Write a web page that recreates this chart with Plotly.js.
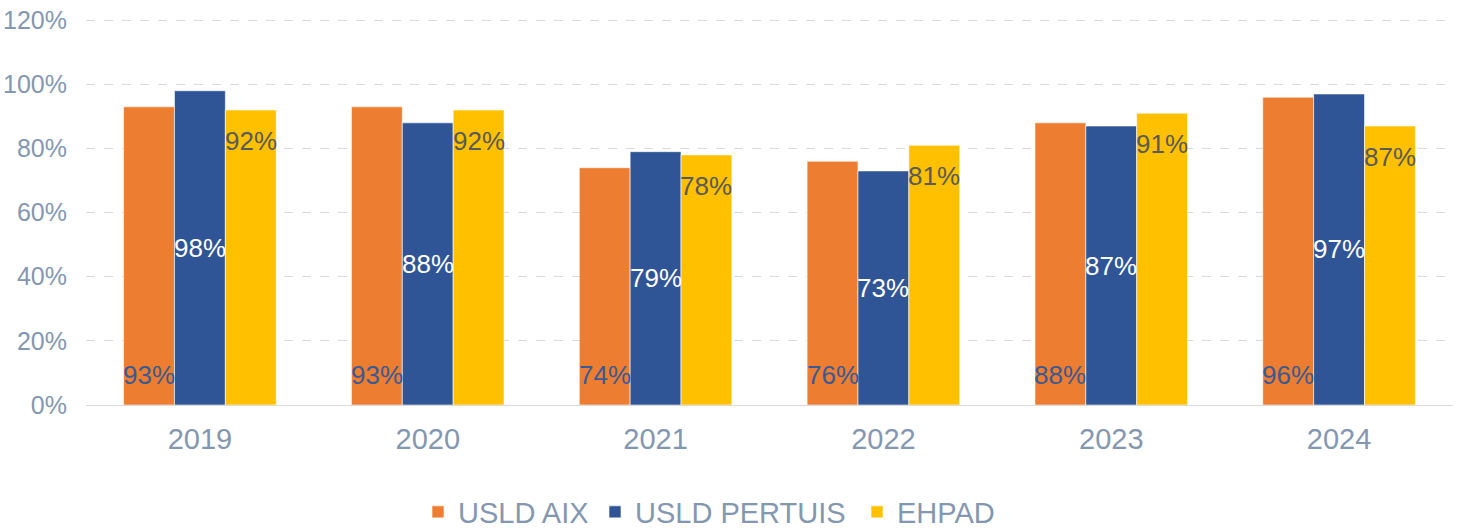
<!DOCTYPE html>
<html>
<head>
<meta charset="utf-8">
<script src="https://cdn.plot.ly/plotly-3.0.1.min.js"></script>
<style>html,body{margin:0;padding:0;background:#fff;}#chart{width:1464px;height:528px;}</style>
</head>
<body>
<div id="chart"></div>
<script>
const years = ['2019', '2020', '2021', '2022', '2023', '2024'];
const usldAix = [0.93, 0.93, 0.74, 0.76, 0.88, 0.96];
const usldPertuis = [0.98, 0.88, 0.79, 0.73, 0.87, 0.97];
const ehpad = [0.92, 0.92, 0.78, 0.81, 0.91, 0.87];
const seriesNames = ['USLD AIX', 'USLD PERTUIS', 'EHPAD'];
const yTicks = [0, 0.2, 0.4, 0.6, 0.8, 1.0, 1.2];

const colors = ['#ED7D31', '#2F5597', '#FFC000'];
const legendWidths = [132, 217, 100];
const font = '"Liberation Sans", Arial, sans-serif';
const bargap = 0.33;
const barW = (1 - bargap) / 3;

const allSeries = [usldAix, usldPertuis, ehpad];
const traces = allSeries.map((vals, i) => ({
  type: 'bar',
  name: seriesNames[i],
  x: years.map((_, k) => k),
  y: vals,
  legendwidth: legendWidths[i],
  marker: {color: colors[i], line: {color: 'rgba(255,255,255,0.6)', width: 1}},
  hoverinfo: 'skip'
}));

const pct = v => Math.round(v * 100) + '%';
const annotations = [];
years.forEach((yr, k) => {
  annotations.push({x: k - barW, y: 0, yshift: 30, text: pct(usldAix[k]), showarrow: false,
    xref: 'x', yref: 'y', yanchor: 'middle', font: {family: font, size: 26, color: '#3A5A94'}});
  annotations.push({x: k, y: usldPertuis[k] / 2, text: pct(usldPertuis[k]), showarrow: false,
    xref: 'x', yref: 'y', yanchor: 'middle', font: {family: font, size: 26, color: '#FFFFFF'}});
  annotations.push({x: k + barW, y: ehpad[k], yshift: -31, text: pct(ehpad[k]), showarrow: false,
    xref: 'x', yref: 'y', yanchor: 'middle', font: {family: font, size: 26, color: '#5A5A5A'}});
});

const layout = {
  width: 1464, height: 528,
  margin: {l: 86, r: 11, t: 17, b: 123},
  paper_bgcolor: '#fff', plot_bgcolor: '#fff',
  barmode: 'group', bargap: bargap, bargroupgap: 0,
  font: {family: font, color: '#8497B0'},
  xaxis: {
    tickmode: 'array', tickvals: years.map((_, k) => k), ticktext: years,
    range: [-0.5, years.length - 0.5],
    showgrid: false, zeroline: false,
    showline: true, linecolor: '#D9D9D9', linewidth: 1,
    ticks: '', ticklabelstandoff: 8,
    tickfont: {family: font, size: 29, color: '#8497B0'},
    automargin: false, fixedrange: true
  },
  yaxis: {
    range: [0, 1.21], tickmode: 'array', tickvals: yTicks, tickformat: '.0%',
    showgrid: true, gridcolor: '#D9D9D9', griddash: 'dash', gridwidth: 1,
    zeroline: false, showline: false, ticks: '', ticklabelstandoff: 18,
    tickfont: {family: font, size: 25, color: '#8497B0'},
    automargin: false, fixedrange: true
  },
  showlegend: true,
  legend: {
    orientation: 'h', xref: 'container', yref: 'container',
    x: 418 / 1464, xanchor: 'left', y: 16 / 528, yanchor: 'middle',
    font: {family: font, size: 29, color: '#8497B0'},
    itemclick: false, itemdoubleclick: false, traceorder: 'normal'
  },
  annotations: annotations
};

Plotly.newPlot('chart', traces, layout, {displayModeBar: false, staticPlot: true});
</script>
</body>
</html>
